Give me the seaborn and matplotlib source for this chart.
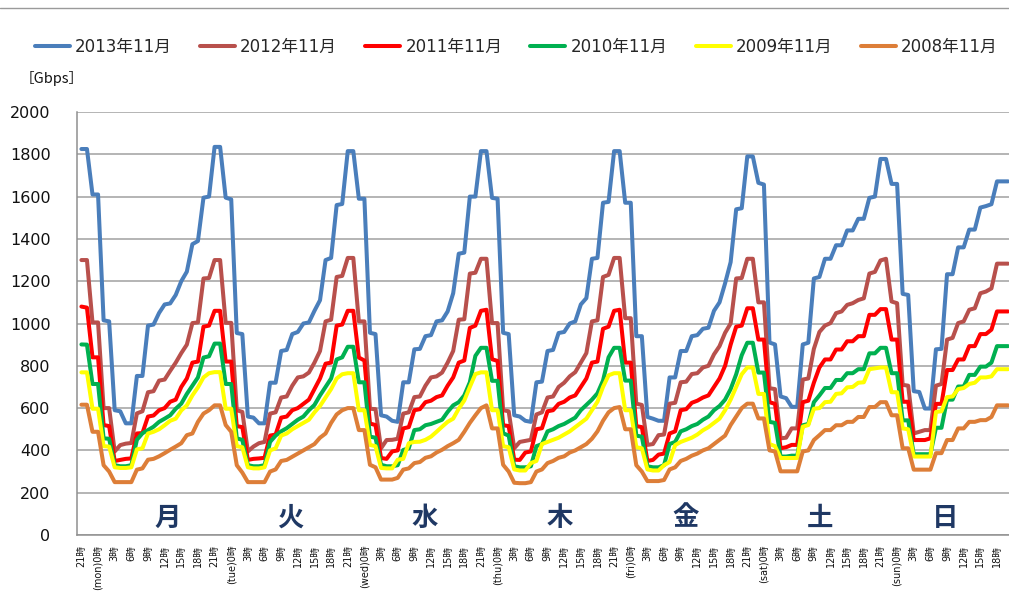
import numpy as np
import pandas as pd
import matplotlib
matplotlib.use("Agg")
import matplotlib.pyplot as plt
import seaborn as sns
from matplotlib.lines import Line2D

# ---------------- data ----------------
series_names = ["2013年11月", "2012年11月", "2011年11月", "2010年11月", "2009年11月", "2008年11月"]
series_colors = ["#4A7EBB", "#B8504C", "#FF0000", "#00B050", "#FFFF00", "#DD7E38"]
day_tags = ["mon", "tue", "wed", "thu", "fri", "sat", "sun"]
day_labels = ["月", "火", "水", "木", "金", "土", "日"]
day_label_pos = [15.6, 37.6, 61.9, 86.2, 108.8, 133.1, 155.6]   # category index
start_hour = 21   # first category = Sunday 21時
y_ticks = [0, 200, 400, 600, 800, 1000, 1200, 1400, 1600, 1800, 2000]

# hourly traffic [Gbps]; first 3 values = previous Sunday 21-23時, then Mon..Sat 0-23時, Sun 0-20時
y2013 = [1825, 1825, 1610,
         1610, 1015, 1010, 590, 585, 528, 528, 752, 752, 990, 995, 1050, 1090, 1095, 1135, 1200, 1245, 1375, 1390, 1595, 1600, 1835, 1835, 1595,
         1587, 955, 950, 560, 555, 528, 528, 720, 720, 870, 875, 950, 960, 1000, 1005, 1060, 1110, 1300, 1310, 1560, 1565, 1815, 1815, 1590,
         1590, 956, 950, 566, 560, 540, 535, 722, 722, 878, 880, 940, 945, 1010, 1015, 1057, 1143, 1330, 1335, 1600, 1600, 1815, 1815, 1594,
         1590, 956, 950, 566, 560, 540, 535, 722, 725, 870, 875, 955, 960, 1000, 1010, 1090, 1120, 1306, 1310, 1571, 1575, 1815, 1815, 1571,
         1571, 940, 940, 558, 550, 540, 540, 745, 745, 870, 870, 940, 945, 975, 980, 1060, 1100, 1190, 1290, 1540, 1545, 1790, 1790, 1665,
         1657, 910, 901, 655, 647, 606, 606, 901, 909, 1213, 1220, 1306, 1306, 1370, 1370, 1440, 1440, 1495, 1495, 1594, 1600, 1778, 1778, 1660,
         1660, 1140, 1135, 680, 676, 598, 598, 878, 880, 1233, 1233, 1360, 1360, 1444, 1444, 1548, 1555, 1564, 1672, 1672, 1672]

y2012 = [1300, 1300, 1005,
         1005, 600, 600, 395, 425, 432, 435, 575, 585, 675, 680, 730, 735, 776, 815, 860, 900, 1002, 1005, 1213, 1215, 1300, 1300, 1003,
         1003, 590, 582, 395, 418, 434, 440, 574, 580, 650, 655, 706, 745, 750, 768, 815, 870, 1010, 1018, 1220, 1225, 1310, 1310, 1010,
         1010, 597, 595, 410, 449, 450, 455, 574, 580, 652, 655, 706, 745, 750, 768, 815, 870, 1018, 1020, 1236, 1240, 1306, 1306, 1002,
         1002, 590, 585, 410, 440, 445, 450, 570, 580, 650, 655, 700, 720, 750, 770, 815, 860, 1010, 1015, 1220, 1230, 1310, 1310, 1025,
         1025, 621, 615, 426, 430, 472, 475, 621, 625, 722, 725, 761, 765, 792, 800, 854, 893, 956, 1000, 1213, 1215, 1306, 1306, 1100,
         1100, 694, 690, 457, 460, 504, 504, 735, 740, 880, 960, 990, 1002, 1049, 1057, 1088, 1096, 1111, 1119, 1236, 1244, 1298, 1306, 1104,
         1096, 710, 706, 480, 488, 496, 496, 706, 714, 924, 932, 1002, 1010, 1065, 1072, 1143, 1151, 1166, 1283, 1283, 1283]

y2011 = [1080, 1075, 840,
         840, 520, 515, 350, 355, 360, 362, 480, 482, 560, 565, 590, 600, 630, 640, 700, 740, 815, 820, 985, 990, 1060, 1060, 820,
         820, 515, 510, 355, 360, 362, 365, 470, 475, 555, 560, 590, 600, 620, 640, 690, 740, 810, 815, 990, 995, 1060, 1060, 839,
         825, 527, 520, 364, 360, 395, 400, 504, 510, 590, 595, 628, 635, 652, 660, 706, 745, 815, 825, 979, 990, 1060, 1065, 831,
         823, 519, 515, 356, 355, 390, 395, 500, 505, 585, 590, 620, 630, 650, 660, 700, 740, 815, 820, 975, 985, 1060, 1065, 815,
         815, 515, 510, 350, 355, 380, 385, 480, 490, 590, 595, 625, 635, 650, 660, 700, 740, 800, 900, 985, 990, 1072, 1072, 924,
         924, 628, 620, 410, 415, 426, 426, 628, 635, 720, 792, 830, 830, 877, 877, 916, 916, 940, 940, 1041, 1041, 1068, 1068, 924,
         924, 630, 630, 449, 449, 449, 457, 620, 620, 780, 780, 830, 830, 893, 893, 950, 950, 971, 1057, 1057, 1057]

y2010 = [901, 900, 714,
         714, 457, 455, 330, 325, 325, 330, 450, 481, 496, 512, 535, 550, 566, 597, 621, 667, 706, 745, 839, 845, 905, 905, 714,
         714, 457, 450, 330, 325, 325, 330, 440, 470, 490, 505, 525, 545, 560, 590, 615, 660, 700, 740, 830, 840, 890, 890, 722,
         722, 465, 460, 332, 325, 325, 330, 402, 410, 496, 500, 519, 525, 535, 545, 582, 613, 628, 660, 722, 847, 885, 885, 729,
         729, 481, 470, 325, 320, 320, 325, 420, 430, 490, 500, 515, 525, 540, 555, 590, 615, 640, 670, 730, 840, 885, 885, 730,
         730, 470, 465, 325, 320, 320, 330, 430, 440, 490, 500, 515, 525, 545, 560, 590, 610, 640, 690, 760, 850, 909, 909, 768,
         768, 535, 530, 371, 371, 375, 375, 519, 525, 628, 660, 695, 695, 733, 733, 765, 765, 784, 784, 859, 859, 885, 885, 765,
         765, 542, 542, 382, 382, 382, 382, 507, 507, 640, 640, 702, 702, 757, 757, 796, 796, 815, 893, 893, 893]

y2009 = [769, 769, 597,
         597, 420, 418, 320, 317, 317, 320, 405, 410, 480, 488, 500, 519, 540, 550, 589, 613, 660, 698, 745, 765, 770, 770, 597,
         597, 420, 415, 320, 315, 315, 320, 400, 410, 470, 480, 500, 515, 530, 545, 580, 610, 650, 690, 740, 760, 765, 765, 590,
         590, 426, 420, 317, 315, 315, 356, 360, 434, 440, 441, 450, 465, 488, 512, 535, 550, 597, 636, 700, 761, 769, 769, 590,
         590, 420, 415, 310, 305, 305, 340, 350, 430, 440, 450, 460, 475, 490, 510, 530, 550, 590, 630, 700, 755, 765, 765, 590,
         590, 415, 410, 310, 305, 305, 330, 345, 425, 440, 450, 460, 475, 495, 510, 530, 550, 590, 640, 700, 760, 792, 792, 667,
         667, 430, 420, 364, 364, 364, 364, 512, 520, 597, 600, 628, 630, 667, 670, 698, 700, 720, 722, 784, 788, 792, 792, 675,
         675, 504, 500, 371, 371, 371, 371, 582, 585, 652, 655, 690, 695, 714, 720, 745, 745, 750, 784, 784, 784]

y2008 = [616, 616, 488,
         488, 330, 300, 250, 250, 250, 250, 309, 315, 356, 360, 372, 387, 403, 418, 434, 472, 480, 535, 574, 590, 613, 613, 520,
         488, 330, 295, 250, 250, 250, 250, 300, 310, 350, 355, 370, 385, 400, 415, 430, 460, 480, 530, 570, 590, 600, 600, 496,
         496, 332, 320, 262, 262, 262, 270, 309, 315, 340, 345, 365, 372, 390, 403, 420, 434, 450, 488, 530, 566, 600, 613, 504,
         504, 332, 300, 247, 245, 245, 250, 300, 310, 340, 350, 365, 372, 390, 400, 415, 430, 455, 490, 540, 580, 600, 605, 500,
         500, 330, 300, 255, 255, 255, 260, 310, 320, 350, 360, 375, 385, 400, 410, 430, 450, 470, 520, 560, 600, 621, 621, 551,
         551, 400, 395, 301, 301, 301, 301, 395, 400, 449, 472, 496, 496, 519, 519, 535, 535, 558, 558, 605, 605, 628, 628, 566,
         566, 410, 410, 309, 309, 309, 309, 387, 387, 449, 449, 504, 504, 535, 535, 543, 543, 558, 613, 613, 613]

all_series = [y2013, y2012, y2011, y2010, y2009, y2008]

# ---------------- build long table ----------------
frames = []
for name, vals in zip(series_names, all_series):
    frames.append(pd.DataFrame({"idx": np.arange(len(vals)), "value": vals, "series": name}))
df = pd.concat(frames, ignore_index=True)
n_cat = max(len(v) for v in all_series)

# tick labels
tick_idx = list(range(0, n_cat, 3))
tick_lab = []
for i in tick_idx:
    hr = (start_hour + i) % 24
    if hr == 0:
        d = (start_hour + i) // 24 - 1
        tick_lab.append(f"({day_tags[d]}){hr}時")
    else:
        tick_lab.append(f"{hr}時")

# ---------------- style ----------------
sns.set_theme(style="white")
plt.rcParams["font.family"] = ["DejaVu Sans", "Noto Sans CJK JP"]

W, H = 1009, 613
fig = plt.figure(figsize=(W / 100, H / 100), dpi=100)
ax = fig.add_axes([77 / W, (H - 535) / H, 932 / W, 423 / H])

sns.lineplot(data=df, x="idx", y="value", hue="series", hue_order=series_names,
             palette=series_colors, linewidth=2.9, legend=False, ax=ax, estimator=None)

px0, pxh = 81.4, 5.549
ax.set_xlim((77 - px0) / pxh, (1009 - px0) / pxh)
ax.set_ylim(0, 2000)
ax.set_yticks(y_ticks)
ax.set_yticklabels([str(t) for t in y_ticks], fontsize=11.5, color="#111111")
ax.set_xticks(tick_idx)
ax.set_xticklabels(tick_lab, rotation=90, fontsize=7, color="#111111",
                   family=["DejaVu Sans", "Noto Sans CJK JP"])
ax.tick_params(axis="y", length=0, pad=19)
ax.tick_params(axis="x", length=0, pad=7)
ax.set_xlabel("")
ax.set_ylabel("")
ax.yaxis.grid(True, color="#A0A0A0", linewidth=1.1)
ax.xaxis.grid(False)
ax.set_axisbelow(True)
for s in ["top", "right"]:
    ax.spines[s].set_visible(False)
for s in ["left", "bottom"]:
    ax.spines[s].set_color("#909090")
    ax.spines[s].set_linewidth(1.1)

for lab, pos in zip(day_labels, day_label_pos):
    ax.text(pos, 80, lab, fontsize=19, fontweight="bold", color="#1F3864",
            ha="center", va="center", family=["Noto Sans CJK JP"])

fig.text(20 / W, 1 - 78 / H, "［Gbps］", fontsize=10.5, va="center", ha="left",
         family=["Noto Sans CJK JP", "DejaVu Sans"], color="#111111")

handles = [Line2D([0], [0], color=c, lw=2.9) for c in series_colors]
fig.legend(handles, series_names, ncol=6, loc="center",
           bbox_to_anchor=(516 / W, 1 - 47 / H), frameon=False, fontsize=12,
           handlelength=2.1, handletextpad=0.3, columnspacing=1.7)

fig.add_artist(Line2D([0, 1], [1 - 8 / H, 1 - 8 / H], color="#9A9A9A", lw=1.0,
                      transform=fig.transFigure))

fig.savefig("out.png", dpi=100)
